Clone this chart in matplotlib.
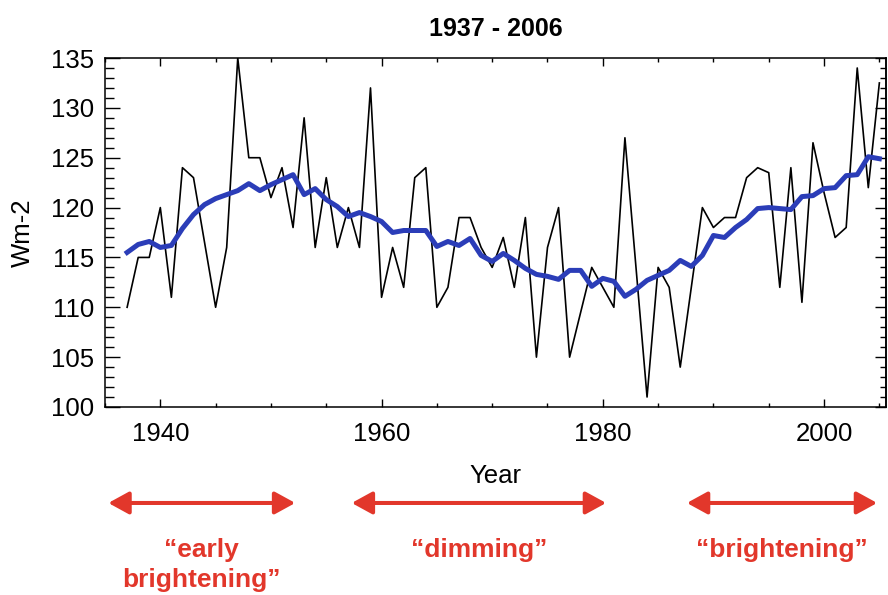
import numpy as np
import matplotlib
matplotlib.use('Agg')
from matplotlib import pyplot as plt
from matplotlib.ticker import MultipleLocator
from matplotlib.transforms import blended_transform_factory

plt.rcParams['font.family'] = ['Liberation Sans', 'DejaVu Sans']

# Годы и значения
years = np.arange(1937, 2006)
radiation = [110, 115, 115, 120, 111, 124, 123, 116.5, 110, 116,
             135, 125, 125, 121, 124, 118, 129, 116, 123, 116,
             120, 116, 132, 111, 116, 112, 123, 124, 110, 112,
             119, 119, 116, 114, 117, 112, 119, 105, 116, 120,
             105, 109.5, 114, 112, 110, 127, 114, 101, 114, 112,
             104, 112, 120, 118, 119, 119, 123, 124, 123.5, 112,
             124, 110.5, 126.5, 121.5, 117, 118, 134, 122, 132.5]
smoothed = [115.5, 116.3, 116.6, 116.0, 116.2, 117.9, 119.3, 120.3, 120.9, 121.3,
            121.7, 122.4, 121.7, 122.3, 122.8, 123.3, 121.3, 121.9, 120.8, 120.1,
            119.1, 119.5, 119.1, 118.6, 117.5, 117.7, 117.7, 117.7, 116.1, 116.6,
            116.2, 116.9, 115.2, 114.6, 115.4, 114.7, 113.9, 113.3, 113.1, 112.8,
            113.7, 113.7, 112.1, 112.9, 112.6, 111.1, 111.8, 112.7, 113.2, 113.7,
            114.7, 114.1, 115.2, 117.2, 117.0, 118.0, 118.8, 119.9, 120.0, 119.9,
            119.8, 121.1, 121.2, 121.9, 122.0, 123.2, 123.3, 125.1, 124.9]

# Периоды и подписи
period_labels = ['\u201cearly\nbrightening\u201d', '\u201cdimming\u201d', '\u201cbrightening\u201d']
period_starts = [1935.3, 1957.3, 1987.6]
period_ends = [1952.2, 1980.3, 2004.8]

red = '#e2372b'
blue = '#2b3db8'

fig = plt.figure(figsize=(8.88, 5.95), dpi=100)
ax = fig.add_axes([105 / 888, 188 / 595, 781 / 888, 349 / 595])

ax.plot(years, radiation, color='black', lw=1.2)
ax.plot(years, smoothed, color=blue, lw=3.6, solid_joinstyle='round')

ax.set_xlim(1935, 2005.6)
ax.set_ylim(100, 135)

ax.xaxis.set_major_locator(MultipleLocator(20))
ax.xaxis.set_minor_locator(MultipleLocator(5))
ax.yaxis.set_major_locator(MultipleLocator(5))
ax.yaxis.set_minor_locator(MultipleLocator(1))

ax.tick_params(axis='x', which='both', direction='in', top=True, width=1.0,
               labelsize=18.5, pad=11)
ax.tick_params(axis='x', which='major', length=5.8)
ax.tick_params(axis='x', which='minor', length=3)
ax.tick_params(axis='y', which='both', direction='in', width=1.0,
               labelsize=18.5, pad=8)
ax.tick_params(axis='y', which='major', length=10.8)
ax.tick_params(axis='y', which='minor', length=6.5)

# Правая ось с короткими делениями
sec = ax.secondary_yaxis('right')
sec.yaxis.set_major_locator(MultipleLocator(5))
sec.yaxis.set_minor_locator(MultipleLocator(1))
sec.tick_params(axis='y', which='both', direction='in', width=1.0, labelright=False)
sec.tick_params(axis='y', which='major', length=8)
sec.tick_params(axis='y', which='minor', length=4.3)
sec.spines['right'].set_linewidth(1.1)

for s in ax.spines.values():
    s.set_linewidth(1.1)

ax.set_xlabel('Year', fontsize=18.5, labelpad=13)
ax.set_ylabel('Wm-2', fontsize=18.5)
ax.yaxis.set_label_coords(-0.09, 0.5)
ax.set_title('1937 - 2006', fontsize=18, fontweight='bold', pad=16)

# Стрелки и подписи периодов
trans = blended_transform_factory(ax.transData, ax.transAxes)
for label, x0, x1 in zip(period_labels, period_starts, period_ends):
    ax.annotate('', xy=(x1, -0.275), xytext=(x0, -0.275), xycoords=trans,
                textcoords=trans, annotation_clip=False,
                arrowprops=dict(arrowstyle='<|-|>,head_length=0.62,head_width=0.34',
                                mutation_scale=20, lw=2.9, color=red,
                                shrinkA=0, shrinkB=0))
    ax.text((x0 + x1) / 2, -0.375, label, transform=trans, ha='center', va='top',
            multialignment='center', linespacing=1.3, fontsize=19,
            fontweight='bold', color=red, clip_on=False)

fig.savefig('out.png', dpi=100)
